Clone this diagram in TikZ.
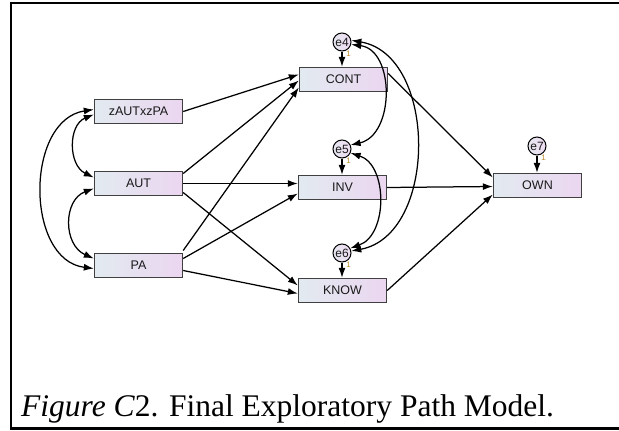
\documentclass[tikz,border=0pt]{standalone}
\usepackage{fontspec}
\setmainfont{Liberation Serif}
\newfontfamily\labelfont{Liberation Sans}
\usetikzlibrary{arrows.meta,calc}

\definecolor{boxL}{HTML}{E2EAF0}
\definecolor{boxR}{HTML}{EBD6F0}
\definecolor{errL}{HTML}{E6E6F0}
\definecolor{errR}{HTML}{EEDCF2}
\definecolor{onecol}{HTML}{C08A2A}

\begin{document}
\begin{tikzpicture}[x=1pt,y=-1pt,
  obs/.style={draw=black!75, line width=1.4pt, left color=boxL, right color=boxR,
    minimum width=88pt, minimum height=24pt, inner sep=0pt,
    text=black!90, font=\labelfont\fontsize{12.5}{13}\selectfont},
  err/.style={circle, draw=black, line width=1pt, left color=errL, right color=errR,
    minimum size=18pt, inner sep=0pt, text=black!90,
    font=\labelfont\fontsize{12}{12}\selectfont},
  reg/.style={line width=1.25pt, -{Latex[length=10pt,width=7pt]}},
  cov/.style={line width=1.25pt, {Latex[length=10pt,width=7pt]}-{Latex[length=10pt,width=7pt]}},
  one/.style={inner sep=0pt, text=onecol, font=\labelfont\fontsize{8}{8}\selectfont}
]
\useasboundingbox (0,0) rectangle (619,431);

% frame
\draw[line width=2.3pt] (619,3.3) -- (11.2,3.3) -- (11.2,428.6) -- (619,428.6);

% observed variables
\node[obs] (zap)  at (138.5,111.5) {zAUTxzPA};
\node[obs] (aut)  at (138.5,183.5) {AUT};
\node[obs] (pa)   at (138.5,265.5) {PA};
\node[obs] (cont) at (343.5,79.5)  {CONT};
\node[obs] (inv)  at (342.5,187.5) {INV};
\node[obs] (know) at (342.5,290.5) {KNOW};
\node[obs] (own)  at (537.5,185.5) {OWN};

% error terms
\node[err] (e4) at (342,42)  {e4};
\node[err] (e5) at (342,149) {e5};
\node[err] (e6) at (342,253) {e6};
\node[err] (e7) at (537,146) {e7};

\node[one] (o4) at (348.5,54)  {1};
\node[one] (o5) at (348.5,161) {1};
\node[one] (o6) at (348.5,265) {1};
\node[one] (o7) at (543.5,158) {1};

\draw[reg] (e4.south) -- (e4.south |- cont.north);
\draw[reg] (e5.south) -- (e5.south |- inv.north);
\draw[reg] (e6.south) -- (e6.south |- know.north);
\draw[reg] (e7.south) -- (e7.south |- own.north);

% regression paths
\draw[reg] (zap.east) -- ($(cont.west)+(0,-5)$);
\draw[reg] ($(aut.east)+(0,-10)$) -- ($(cont.west)+(0,1)$);
\draw[reg] (aut.east) -- ($(inv.west)+(0,-4)$);
\draw[reg] ($(aut.east)+(0,9)$) -- ($(know.west)+(0,-5)$);
\draw[reg] ($(pa.east)+(0,-15)$) -- ($(cont.west)+(0,8)$);
\draw[reg] ($(pa.east)+(0,-7)$) -- ($(inv.west)+(0,6)$);
\draw[reg] ($(pa.east)+(0,5)$) -- ($(know.west)+(0,3)$);
\draw[reg] ($(cont.east)+(0,-6)$) -- ($(own.west)+(0,-8)$);
\draw[reg] (inv.east) -- ($(own.west)+(0,1)$);
\draw[reg] (know.east) -- ($(own.west)+(0,9)$);

% covariances among exogenous variables
\draw[cov] ($(zap.west)+(0,3)$) .. controls (68,125) and (68,165) .. ($(aut.west)+(0,-6)$);
\draw[cov] ($(aut.west)+(0,5)$) .. controls (63,200) and (63,245) .. ($(pa.west)+(0,-7)$);
\draw[cov] ($(zap.west)+(0,-2)$) .. controls (25,120) and (25,260) .. ($(pa.west)+(0,3)$);

% covariances among error terms
\draw[cov] (e4.-15) .. controls (395,50) and (395,135) .. (e5.25);
\draw[cov] (e5.-25) .. controls (388,165) and (388,235) .. (e6.30);
\draw[cov] (e4.10) .. controls (438,55) and (438,235) .. (e6.12);

% caption
\node[anchor=base west, inner sep=0pt, font=\fontsize{31.5}{34}\selectfont] (cap) at (21,416)
  {\textit{Figure C}2. Final Exploratory Path Model.};
\end{tikzpicture}
\end{document}
